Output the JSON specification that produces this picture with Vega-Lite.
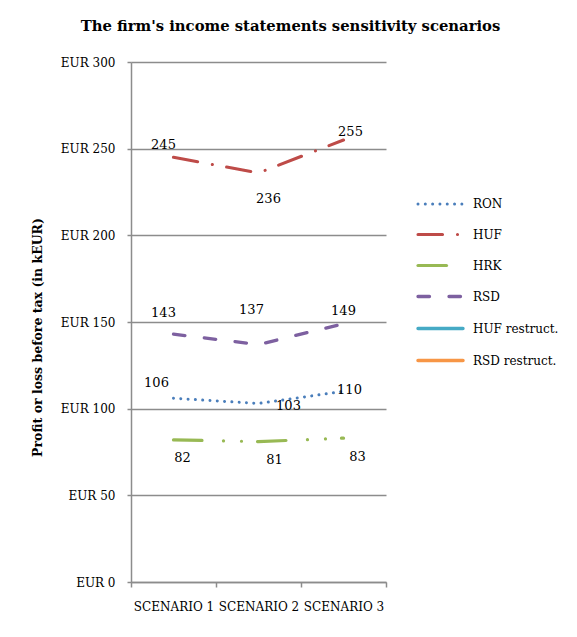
{
  "$schema": "https://vega.github.io/schema/vega-lite/v6.json",
  "width": 255,
  "height": 520,
  "autosize": {"type": "none"},
  "padding": {"left": 131, "top": 62, "right": 191, "bottom": 55},
  "background": "white",
  "title": {"text": "The firm's income statements sensitivity scenarios", "font": "DejaVu Serif", "fontSize": 14.8, "fontWeight": "bold", "color": "#000000", "anchor": "middle", "frame": "group", "dx": 32, "offset": 22},
  "data": {"values": [
    {"scenario": "SCENARIO 1", "series": "RON", "value": 106},
    {"scenario": "SCENARIO 2", "series": "RON", "value": 103},
    {"scenario": "SCENARIO 3", "series": "RON", "value": 110},
    {"scenario": "SCENARIO 1", "series": "HUF", "value": 245},
    {"scenario": "SCENARIO 2", "series": "HUF", "value": 236},
    {"scenario": "SCENARIO 3", "series": "HUF", "value": 255},
    {"scenario": "SCENARIO 1", "series": "HRK", "value": 82},
    {"scenario": "SCENARIO 2", "series": "HRK", "value": 81},
    {"scenario": "SCENARIO 3", "series": "HRK", "value": 83},
    {"scenario": "SCENARIO 1", "series": "RSD", "value": 143},
    {"scenario": "SCENARIO 2", "series": "RSD", "value": 137},
    {"scenario": "SCENARIO 3", "series": "RSD", "value": 149}
  ]},
  "encoding": {
    "x": {"field": "scenario", "type": "nominal", "sort": null,
      "scale": {"paddingInner": 0, "paddingOuter": 0},
      "axis": {"title": null, "labelAngle": 0, "tickBand": "extent", "labelFont": "DejaVu Serif", "labelFontSize": 12, "labelColor": "#000000", "labelPadding": 14, "domainColor": "#8c8c8c", "domainWidth": 1.5, "tickColor": "#8c8c8c", "tickWidth": 1.5, "tickSize": 5, "grid": false}},
    "y": {"field": "value", "type": "quantitative",
      "scale": {"domain": [0, 300], "nice": false},
      "axis": {"title": "Profit or loss before tax (in kEUR)", "titleFont": "DejaVu Serif", "titleFontSize": 12.5, "titleFontWeight": "bold", "titleColor": "#000000", "titlePadding": 16, "titleY": 275,
        "values": [0, 50, 100, 150, 200, 250, 300], "labelExpr": "'EUR ' + datum.value", "labelFont": "DejaVu Serif", "labelFontSize": 12, "labelColor": "#000000", "labelPadding": 12,
        "grid": true, "gridColor": "#8c8c8c", "gridWidth": 1.5, "domainColor": "#8c8c8c", "domainWidth": 1.5, "tickColor": "#8c8c8c", "tickWidth": 1.5, "tickSize": 4}}
  },
  "layer": [
    {
      "mark": {"type": "line", "strokeCap": "round"},
      "encoding": {
        "color": {"field": "series", "type": "nominal",
          "scale": {"domain": ["RON", "HUF", "HRK", "RSD", "HUF restruct.", "RSD restruct."], "range": ["#4a7ebb", "#be4b48", "#98b954", "#7d60a0", "#46aac5", "#f79646"]},
          "legend": {"title": null, "orient": "none", "legendX": 285, "legendY": 118, "symbolType": "stroke", "symbolSize": 2025, "symbolStrokeWidth": 2.5, "rowPadding": -16, "labelOffset": 8, "labelFont": "DejaVu Serif", "labelFontSize": 12, "labelColor": "#000000", "padding": 0,
            "encode": {"symbols": {"update": {
              "strokeCap": {"value": "round"},
              "strokeDash": {"signal": "datum.value == 'RON' ? [0.01, 5.5] : datum.value == 'HUF' ? [18, 10, 0.01, 10] : datum.value == 'HRK' ? [18, 11, 0.01, 11, 0.01, 30] : datum.value == 'RSD' ? [10, 7.5] : [1, 0]"},
              "strokeWidth": {"signal": "datum.value == 'RON' ? 2.5 : datum.value == 'HUF restruct.' || datum.value == 'RSD restruct.' ? 1.5 : 3"}
            }}}}},
        "strokeDash": {"field": "series", "type": "nominal", "legend": null,
          "scale": {"domain": ["RON", "HUF", "HRK", "RSD", "HUF restruct.", "RSD restruct."], "range": [[0.01, 7.3], [24.5, 15, 0.01, 14.5], [28.5, 21.5, 0.01, 18, 0.01, 16], [11.5, 19.5], [1, 0], [1, 0]]}},
        "strokeWidth": {"field": "series", "type": "nominal", "legend": null,
          "scale": {"domain": ["RON", "HUF", "HRK", "RSD", "HUF restruct.", "RSD restruct."], "range": [3, 3.5, 4.5, 4.5, 1.5, 1.5]}}
      }
    },
    {
      "encoding": {"text": {"field": "value", "type": "quantitative"}},
      "layer": [
        {"transform": [{"filter": "datum.series == 'RON' && datum.scenario == 'SCENARIO 1'"}], "mark": {"type": "text", "font": "DejaVu Serif", "fontSize": 13, "color": "#000000", "dx": -17, "dy": -15}},
        {"transform": [{"filter": "datum.series == 'RON' && datum.scenario == 'SCENARIO 2'"}], "mark": {"type": "text", "font": "DejaVu Serif", "fontSize": 13, "color": "#000000", "dx": 30, "dy": 3}},
        {"transform": [{"filter": "datum.series == 'RON' && datum.scenario == 'SCENARIO 3'"}], "mark": {"type": "text", "font": "DejaVu Serif", "fontSize": 13, "color": "#000000", "dx": 6, "dy": -1}},
        {"transform": [{"filter": "datum.series == 'HUF' && datum.scenario == 'SCENARIO 1'"}], "mark": {"type": "text", "font": "DejaVu Serif", "fontSize": 13, "color": "#000000", "dx": -10, "dy": -12}},
        {"transform": [{"filter": "datum.series == 'HUF' && datum.scenario == 'SCENARIO 2'"}], "mark": {"type": "text", "font": "DejaVu Serif", "fontSize": 13, "color": "#000000", "dx": 10, "dy": 26}},
        {"transform": [{"filter": "datum.series == 'HUF' && datum.scenario == 'SCENARIO 3'"}], "mark": {"type": "text", "font": "DejaVu Serif", "fontSize": 13, "color": "#000000", "dx": 7, "dy": -8}},
        {"transform": [{"filter": "datum.series == 'HRK' && datum.scenario == 'SCENARIO 1'"}], "mark": {"type": "text", "font": "DejaVu Serif", "fontSize": 13, "color": "#000000", "dx": 9, "dy": 18}},
        {"transform": [{"filter": "datum.series == 'HRK' && datum.scenario == 'SCENARIO 2'"}], "mark": {"type": "text", "font": "DejaVu Serif", "fontSize": 13, "color": "#000000", "dx": 16, "dy": 18}},
        {"transform": [{"filter": "datum.series == 'HRK' && datum.scenario == 'SCENARIO 3'"}], "mark": {"type": "text", "font": "DejaVu Serif", "fontSize": 13, "color": "#000000", "dx": 14, "dy": 19}},
        {"transform": [{"filter": "datum.series == 'RSD' && datum.scenario == 'SCENARIO 1'"}], "mark": {"type": "text", "font": "DejaVu Serif", "fontSize": 13, "color": "#000000", "dx": -10, "dy": -21}},
        {"transform": [{"filter": "datum.series == 'RSD' && datum.scenario == 'SCENARIO 2'"}], "mark": {"type": "text", "font": "DejaVu Serif", "fontSize": 13, "color": "#000000", "dx": -7, "dy": -35}},
        {"transform": [{"filter": "datum.series == 'RSD' && datum.scenario == 'SCENARIO 3'"}], "mark": {"type": "text", "font": "DejaVu Serif", "fontSize": 13, "color": "#000000", "dx": 0, "dy": -13}}
      ]
    }
  ],
  "config": {"view": {"stroke": null}}
}
